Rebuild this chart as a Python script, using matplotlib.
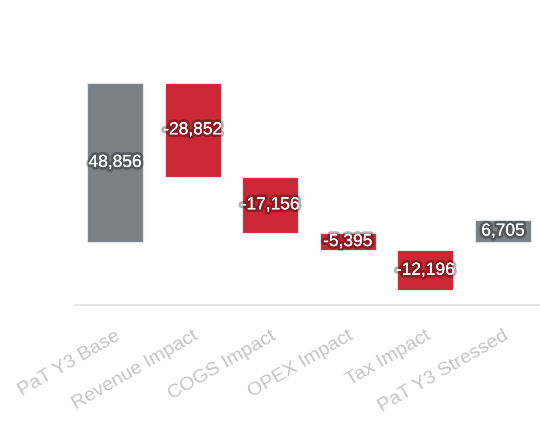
import matplotlib.pyplot as plt
import matplotlib.patheffects as pe
import numpy as np

categories = ['PaT Y3 Base', 'Revenue Impact', 'COGS Impact', 'OPEX Impact',
              'Tax Impact', 'PaT Y3 Stressed']
values = [48856, -28852, -17156, -5395, -12196, 6705]
is_total = [True, False, False, False, False, True]

gray = '#7b8085'
red = '#cc2734'

# waterfall: steps stack on the running total, totals start from zero
bottoms = []
running = 0
for i, (v, tot) in enumerate(zip(values, is_total)):
    if tot:
        bottoms.append(min(0, v))
        if i == 0:
            running = v
    else:
        bottoms.append(running + v if v < 0 else running)
        running += v
heights = [abs(v) for v in values]
colors = [gray if t else red for t in is_total]

fig = plt.figure(figsize=(5.4, 4.25), dpi=100)
ax = fig.add_axes([0.139, 0.2824, 0.861, 0.6085])

x = np.arange(len(categories))
ax.bar(x, heights, bottom=bottoms, width=0.72, color=colors,
       edgecolor='#e6e6e6', linewidth=0.8)

glow = [pe.withStroke(linewidth=4, foreground=(0, 0, 0, 0.3)), pe.Normal()]
for xi, b, h, v in zip(x, bottoms, heights, values):
    ax.text(xi, b + h / 2, f'{v:,}', ha='center', va='center', color='white',
            fontsize=12.5, family='Liberation Sans', path_effects=glow)

ax.set_xlim(-0.515, 5.477)
ax.set_ylim(-19300, 60000)
ax.set_yticks([])
ax.set_xticks(x)
ax.set_xticklabels(categories, rotation=30, ha='right', rotation_mode='anchor',
                   color='#c4c4c4', fontsize=14, family='Liberation Sans')
ax.tick_params(axis='x', length=0, pad=16)
for s in ['top', 'right', 'left']:
    ax.spines[s].set_visible(False)
ax.spines['bottom'].set_color('#e0e0e0')
ax.spines['bottom'].set_linewidth(1.2)

fig.savefig('out.png')
